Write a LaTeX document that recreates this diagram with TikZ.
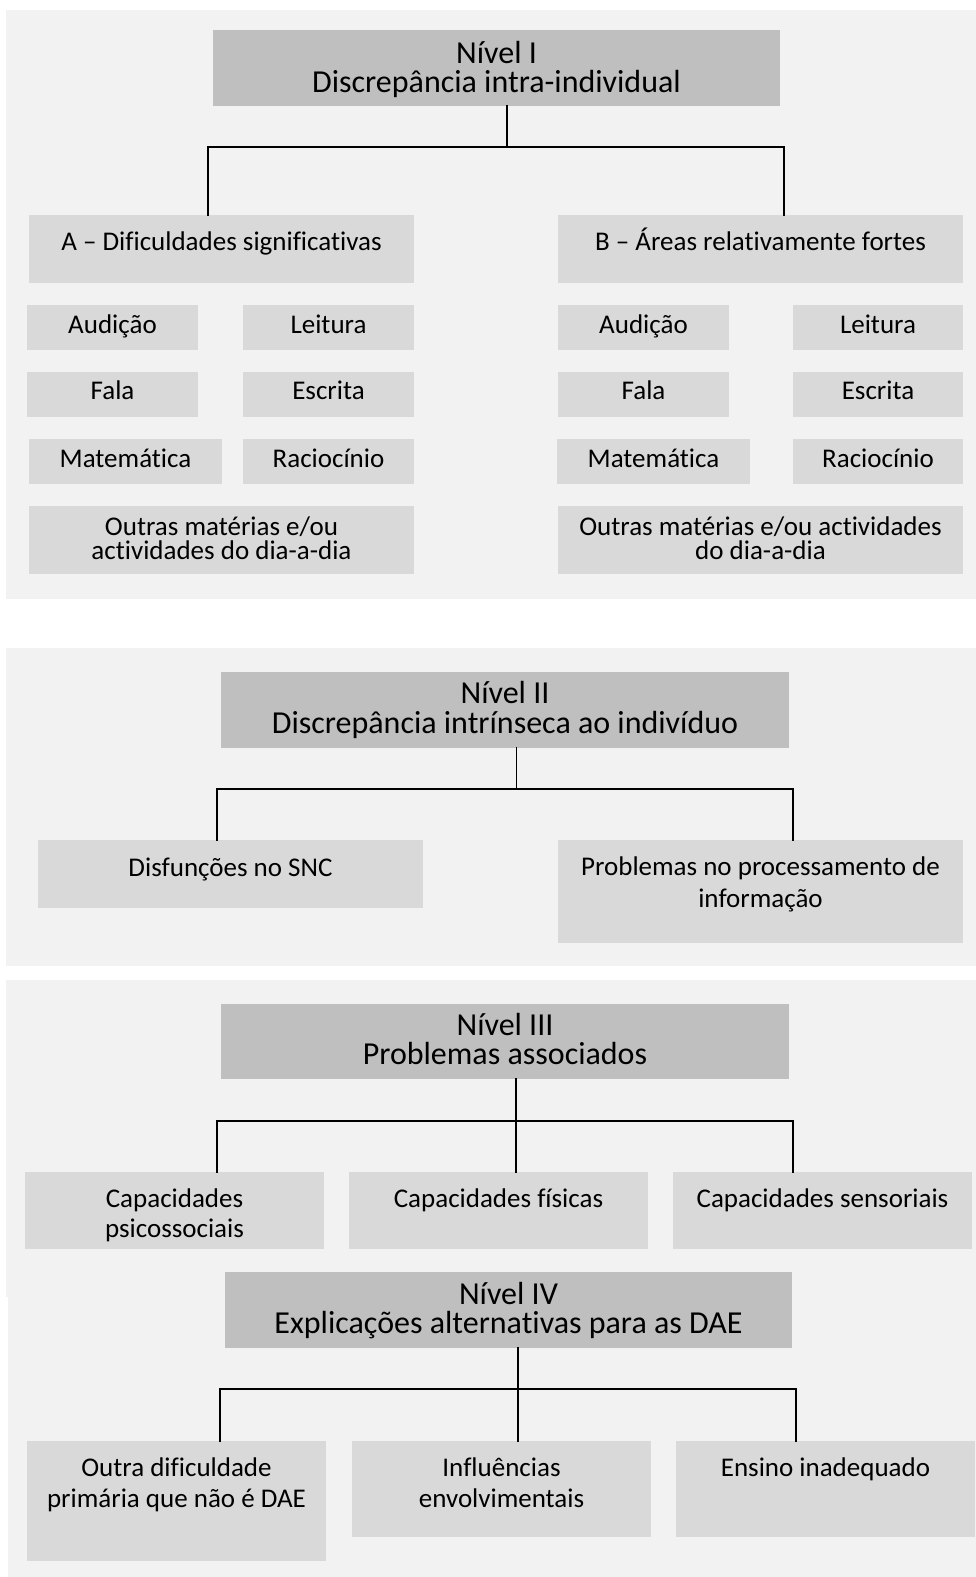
\documentclass[tikz,border=0pt]{standalone}
\usepackage{fontspec}
\setmainfont[Ligatures=NoCommon]{Carlito}
\usetikzlibrary{calc}
\definecolor{panelgray}{HTML}{F2F2F2}
\definecolor{hdrgray}{HTML}{BFBFBF}
\definecolor{subgray}{HTML}{D9D9D9}
\tikzset{
  panel/.style={fill=panelgray, draw=none},
  hdrbox/.style={fill=hdrgray, draw=none, inner sep=0pt, outer sep=0pt},
  subbox/.style={fill=subgray, draw=none, inner sep=0pt, outer sep=0pt},
  htext/.style={font=\fontsize{32}{29.5}\selectfont, align=center, anchor=north, inner sep=0pt},
  stext/.style={font=\fontsize{27}{31}\selectfont, align=center, anchor=north, inner sep=0pt},
  conn/.style={draw=black, line width=1.8pt, line join=miter, line cap=rect}
}
% box: style, name, x1, y1, x2, y2
\newcommand\mybx[6]{\node[#1, anchor=north west, minimum width={(#5-#3)*1pt}, minimum height={(#6-#4)*1pt}] (#2) at (#3,#4) {};}
% text: style, name, box, first baseline, text
\newcommand\mytx[5]{\node[#1] (#2) at (#3.north |- 0,#4-30) {\rule{0pt}{30pt}#5};}
\begin{document}
\begin{tikzpicture}[x=1pt,y=-1pt]
\useasboundingbox (0,0) rectangle (976,1577);
% panels
\fill[panel] (6,10) rectangle (976,599);
\fill[panel] (6,648) rectangle (976,966);
\fill[panel] (6,980) rectangle (976,1297);
\fill[panel] (8,1297) rectangle (976,1577);

% ---------- Level I ----------
\mybx{hdrbox}{h1}{213}{30}{780}{106}
\mytx{htext}{th1}{h1}{63}{Nível I\\Discrepância intra-individual}
\mybx{subbox}{a}{29}{215}{414}{283}
\mytx{stext}{ta}{a}{250}{A – Dificuldades significativas}
\mybx{subbox}{b}{558}{215}{963}{283}
\mytx{stext}{tb}{b}{250}{B – Áreas relativamente fortes}

\mybx{subbox}{la1}{27}{305}{198}{350}
\mytx{stext}{tla1}{la1}{333}{Audição}
\mybx{subbox}{la2}{243}{305}{414}{350}
\mytx{stext}{tla2}{la2}{333}{Leitura}
\mybx{subbox}{ra1}{558}{305}{729}{350}
\mytx{stext}{tra1}{ra1}{333}{Audição}
\mybx{subbox}{ra2}{793}{305}{963}{350}
\mytx{stext}{tra2}{ra2}{333}{Leitura}

\mybx{subbox}{lf1}{27}{372}{198}{417}
\mytx{stext}{tlf1}{lf1}{399}{Fala}
\mybx{subbox}{lf2}{243}{372}{414}{417}
\mytx{stext}{tlf2}{lf2}{399}{Escrita}
\mybx{subbox}{rf1}{558}{372}{729}{417}
\mytx{stext}{trf1}{rf1}{399}{Fala}
\mybx{subbox}{rf2}{793}{372}{963}{417}
\mytx{stext}{trf2}{rf2}{399}{Escrita}

\mybx{subbox}{lm1}{29}{439}{222}{484}
\mytx{stext}{tlm1}{lm1}{467}{Matemática}
\mybx{subbox}{lm2}{243}{439}{414}{484}
\mytx{stext}{tlm2}{lm2}{467}{Raciocínio}
\mybx{subbox}{rm1}{557}{439}{750}{484}
\mytx{stext}{trm1}{rm1}{467}{Matemática}
\mybx{subbox}{rm2}{793}{439}{963}{484}
\mytx{stext}{trm2}{rm2}{467}{Raciocínio}

\mybx{subbox}{lo}{29}{506}{414}{574}
\mytx{stext, font=\fontsize{27}{24}\selectfont}{tlo}{lo}{535}{Outras matérias e/ou\\actividades do dia-a-dia}
\mybx{subbox}{ro}{558}{506}{963}{574}
\mytx{stext, font=\fontsize{27}{24}\selectfont}{tro}{ro}{535}{Outras matérias e/ou actividades\\do dia-a-dia}

\coordinate (j1) at (507,147);
\coordinate (l1) at (208,147);
\coordinate (r1) at (784,147);
\draw[conn] (j1 |- h1.south) -- (j1);
\draw[conn] (l1 |- a.north) -- (l1) -- (r1) -- (r1 |- b.north);

% ---------- Level II ----------
\mybx{hdrbox}{h2}{221}{672}{789}{748}
\mytx{htext, font=\fontsize{32}{30}\selectfont}{th2}{h2}{703}{Nível II\\Discrepância intrínseca ao indivíduo}
\mybx{subbox}{d}{38}{840}{423}{908}
\mytx{stext}{td}{d}{876}{Disfunções no SNC}
\mybx{subbox}{p}{558}{840}{963}{943}
\mytx{stext, font=\fontsize{27}{32}\selectfont}{tp}{p}{875}{Problemas no processamento de\\informação}

\coordinate (j2) at (516.5,789);
\coordinate (l2) at (217,789);
\coordinate (r2) at (793,789);
\draw[conn] (j2 |- h2.south) -- (j2);
\draw[conn] (l2 |- d.north) -- (l2) -- (r2) -- (r2 |- p.north);

% ---------- Level III ----------
\mybx{hdrbox}{h3}{221}{1004}{789}{1079}
\mytx{htext}{th3}{h3}{1035}{Nível III\\Problemas associados}
\mybx{subbox}{c1}{25}{1172}{324}{1249}
\mytx{stext, font=\fontsize{27}{30}\selectfont}{tc1}{c1}{1207}{Capacidades\\psicossociais}
\mybx{subbox}{c2}{349}{1172}{648}{1249}
\mytx{stext}{tc2}{c2}{1207}{Capacidades físicas}
\mybx{subbox}{c3}{673}{1172}{972}{1249}
\mytx{stext}{tc3}{c3}{1207}{Capacidades sensoriais}

\coordinate (j3) at (516,1121);
\coordinate (l3) at (217,1121);
\coordinate (r3) at (793,1121);
\draw[conn] (j3 |- h3.south) -- (j3 |- c2.north);
\draw[conn] (l3 |- c1.north) -- (l3) -- (r3) -- (r3 |- c3.north);

% ---------- Level IV ----------
\mybx{hdrbox}{h4}{225}{1272}{792}{1348}
\mytx{htext}{th4}{h4}{1304}{Nível IV\\Explicações alternativas para as DAE}
\mybx{subbox}{e1}{27}{1441}{326}{1561}
\mytx{stext}{te1}{e1}{1476}{Outra dificuldade\\primária que não é DAE}
\mybx{subbox}{e2}{352}{1441}{651}{1537}
\mytx{stext}{te2}{e2}{1476}{Influências\\envolvimentais}
\mybx{subbox}{e3}{676}{1441}{975}{1537}
\mytx{stext}{te3}{e3}{1476}{Ensino inadequado}

\coordinate (j4) at (518,1389);
\coordinate (l4) at (220,1389);
\coordinate (r4) at (796,1389);
\draw[conn] (j4 |- h4.south) -- (j4 |- e2.north);
\draw[conn] (l4 |- e1.north) -- (l4) -- (r4) -- (r4 |- e3.north);
\end{tikzpicture}
\end{document}
